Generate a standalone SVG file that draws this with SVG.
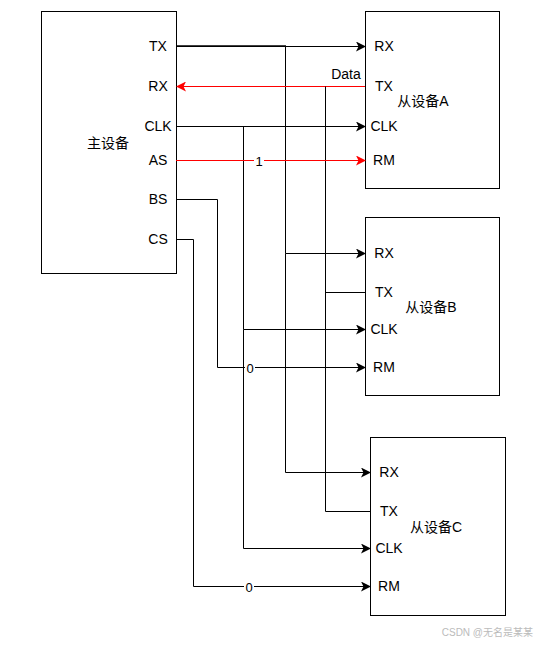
<svg xmlns="http://www.w3.org/2000/svg" width="538" height="647" viewBox="0 0 538 647">
<style>
.box{fill:#fff;stroke:#000;stroke-width:1}
.t{font-family:"Liberation Sans",Arial,"Noto Sans CJK SC",sans-serif;font-size:14px;fill:#000;dominant-baseline:central}
.m{text-anchor:middle}
.w{stroke:#000;stroke-width:1;fill:none}
.r{stroke:#ff0000;stroke-width:1;fill:none}
.lbl{font-family:"Liberation Sans",Arial,sans-serif;font-size:13px;fill:#000;text-anchor:middle;dominant-baseline:central}
</style>
<defs>
<marker id="ak" markerWidth="10" markerHeight="10" refX="9" refY="5" orient="auto" markerUnits="userSpaceOnUse"><path d="M0,0 L10,5 L0,10 L2.5,5 Z" fill="#000"/></marker>
<marker id="ar" markerWidth="10" markerHeight="10" refX="9" refY="5" orient="auto" markerUnits="userSpaceOnUse"><path d="M0,0 L10,5 L0,10 L2.5,5 Z" fill="#ff0000"/></marker>
</defs>
<rect width="538" height="647" fill="#fff"/>
<g id="master">
<rect class="box" x="41.5" y="11.5" width="135" height="262"/>
<text class="t m" x="108" y="143">主设备</text>
<text class="t m" x="158" y="46">TX</text>
<text class="t m" x="158" y="86">RX</text>
<text class="t m" x="158" y="126">CLK</text>
<text class="t m" x="158" y="160">AS</text>
<text class="t m" x="158" y="199">BS</text>
<text class="t m" x="158" y="239">CS</text>
</g>
<g id="slaveA">
<rect class="box" x="365.5" y="11.5" width="134" height="177"/>
<text class="t m" x="384" y="46">RX</text>
<text class="t m" x="384" y="86">TX</text>
<text class="t m" x="384" y="126">CLK</text>
<text class="t m" x="384" y="160">RM</text>
<text class="t m" x="423" y="101">从设备A</text>
</g>
<g id="slaveB">
<rect class="box" x="365.5" y="217.5" width="134" height="178"/>
<text class="t m" x="384" y="253">RX</text>
<text class="t m" x="384" y="292">TX</text>
<text class="t m" x="384" y="329">CLK</text>
<text class="t m" x="384" y="367">RM</text>
<text class="t m" x="431" y="307">从设备B</text>
</g>
<g id="slaveC">
<rect class="box" x="370.5" y="437.5" width="135" height="178"/>
<text class="t m" x="389" y="472">RX</text>
<text class="t m" x="389" y="511">TX</text>
<text class="t m" x="389" y="548">CLK</text>
<text class="t m" x="389" y="586">RM</text>
<text class="t m" x="436" y="527">从设备C</text>
</g>
<g id="connectors">
<path class="w" d="M176,46.5 H365" marker-end="url(#ak)"/>
<path class="w" d="M176,46 H286" style="stroke-width:1.6"/>
<path class="w" d="M285.5,46.5 V253.5 H365" marker-end="url(#ak)"/>
<path class="w" d="M285.5,253.5 V472.5 H370" marker-end="url(#ak)"/>
<path class="r" d="M365,86.5 H177" marker-end="url(#ar)"/>
<text class="lbl" x="346" y="74" style="font-size:14px">Data</text>
<path class="w" d="M325.5,86.5 V511.5 H370"/>
<path class="w" d="M325.5,292.5 H365"/>
<path class="w" d="M176,126.5 H365" marker-end="url(#ak)"/>
<path class="w" d="M243.5,126.5 V329.5 H365" marker-end="url(#ak)"/>
<path class="w" d="M243.5,329.5 V548.5 H370" marker-end="url(#ak)"/>
<path class="r" d="M176,160.5 H365" marker-end="url(#ar)"/>
<rect x="254" y="153" width="10" height="15" fill="#fff"/>
<text class="lbl" x="259" y="161">1</text>
<path class="w" d="M176,199.5 H217.5 V367.5 H365" marker-end="url(#ak)"/>
<rect x="245" y="360" width="10" height="15" fill="#fff"/>
<text class="lbl" x="250" y="368">0</text>
<path class="w" d="M176,239.5 H193.5 V586.5 H370" marker-end="url(#ak)"/>
<rect x="244" y="579" width="10" height="15" fill="#fff"/>
<text class="lbl" x="249" y="587">0</text>
</g>
<text x="533" y="636" style="font-family:'Liberation Sans','Noto Sans CJK SC',sans-serif;font-size:10px;fill:#bbb;text-anchor:end">CSDN @无名是某某</text>
</svg>
